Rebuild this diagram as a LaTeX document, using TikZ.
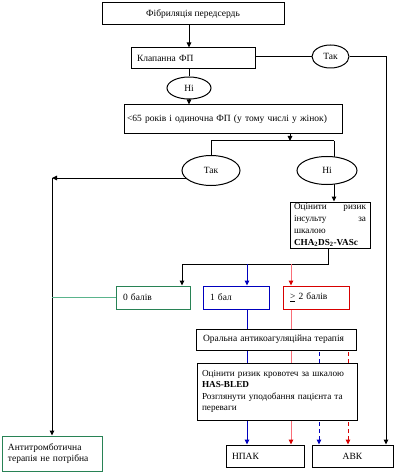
\documentclass[tikz,border=0pt]{standalone}
\usepackage{fontspec}
\setmainfont{Liberation Serif}
\usetikzlibrary{arrows.meta,shapes.geometric,backgrounds}
\definecolor{myblue}{RGB}{0,0,190}
\definecolor{myred}{RGB}{215,0,0}
\definecolor{lred}{RGB}{250,110,120}
\definecolor{mygreen}{RGB}{40,130,85}
\definecolor{lgreen}{RGB}{90,180,140}
\begin{document}
\begin{tikzpicture}[x=1pt,y=-1pt,
  base/.style={draw, fill=white, line width=1pt, font=\fontsize{9.5}{11.5}\selectfont, inner ysep=1pt},
  box/.style={base, rectangle, align=left, inner xsep=6pt},
  oval/.style={base, ellipse, inner sep=0pt},
  arr/.style={-{Triangle[length=5pt,width=4.5pt]}},
  redarr/.style={-{Triangle[length=5pt,width=4.5pt,color=myred]}},
  conn/.style={line width=1pt}]
\useasboundingbox (0,0) rectangle (400,473);
% nodes
\node[base, rectangle, align=center, minimum width=182pt, minimum height=22pt] (top) at (193,14) {Фібриляція передсердь};
\node[box, text width=112pt, minimum height=21pt] (klap) at (193,58.5) {Клапанна ФП};
\node[oval, minimum width=37pt, minimum height=23pt] (tak1) at (330.5,56.5) {Так};
\node[oval, minimum width=44pt, minimum height=22pt] (ni1) at (189,88) {Ні};
\node[box, inner xsep=3pt, text width=212pt, minimum height=29pt] (age) at (233,119.5) {<65 років і одиночна ФП (у тому числі у жінок)};
\node[oval, minimum width=58pt, minimum height=30pt] (tak2) at (211,170.5) {Так};
\node[oval, minimum width=60pt, minimum height=28pt] (ni2) at (327,170.5) {Ні};
\node[box, inner xsep=4pt, text width=72pt, minimum height=46pt, font=\fontsize{9.2}{11.8}\selectfont] (cha) at (330,225) {Оцінити\hfill ризик\\ інсульту\hfill за\\ шкалою\\ \textbf{CHA\textsubscript{2}DS\textsubscript{2}-VASc}};
\node[box, draw=mygreen, inner xsep=7pt, text width=60pt, minimum height=23pt] (b0) at (153,297.5) {0 балів};
\node[box, draw=myblue, inner xsep=7pt, text width=52pt, minimum height=23pt] (b1) at (236,297.5) {1 бал};
\node[box, draw=myred, inner xsep=7pt, text width=52pt, minimum height=23pt] (b2) at (316,297.5) {\underline{>} 2 балів};
\node[box, inner xsep=7pt, text width=146pt, minimum height=21pt] (oral) at (276,339.5) {Оральна антикоагуляційна терапія};
\node[box, inner xsep=5pt, text width=150pt, minimum height=57pt, font=\fontsize{9.2}{11.5}\selectfont] (has) at (277,391.5) {Оцінити ризик кровотеч за шкалою\\ \textbf{HAS-BLED}\\ Розглянути уподобання пацієнта та\\ переваги};
\node[box, text width=66pt, minimum height=22pt] (npak) at (265,456) {НПАК};
\node[base, rectangle, align=center, minimum width=81pt, minimum height=22pt] (avk) at (352.5,456) {АВК};
\node[box, draw=mygreen, text width=88pt, minimum height=35pt] (anti) at (52,453.5) {Антитромботична\\ терапія не потрібна};
% coordinates
\coordinate (c1) at (386,56.5);
\coordinate (j1) at (290,141);
\coordinate (j2) at (211,141);
\coordinate (j3) at (334,141);
\coordinate (c2) at (52,178);
\coordinate (j4) at (328,264);
\coordinate (j5) at (182,264);
\coordinate (j6) at (247,264);
\coordinate (j7) at (291,264);
\coordinate (j8) at (319,345);
\coordinate (j9) at (348,345);
\begin{scope}[on background layer]
\draw[conn,arr] ([xshift=-4pt]top.south) -- ([xshift=-4pt]klap.north);
\draw[conn] (klap.east |- tak1.west) -- (tak1.west);
\draw[conn,arr] (tak1.east) -- (c1) -- (c1 |- avk.north);
\draw[conn] ([xshift=-4pt]klap.south) -- (ni1.north);
\draw[conn,arr] (ni1.south) -- (ni1.south |- age.north);
\draw[conn,arr] (j1 |- age.south) -- (j1);
\draw[conn] (j2) -- (j3);
\draw[conn] (j2) -- (tak2.center);
\draw[conn] (j3) -- (j3 |- ni2.center);
\draw[conn,arr] (tak2.center |- c2) -- (c2);
\draw[conn,arr] (c2) -- (c2 |- anti.north);
\draw[conn,arr] (j3 |- ni2.center) -- (j3 |- cha.north);
\draw[conn] (j4 |- cha.south) -- (j4) -- (j5);
\draw[conn,arr] (j5) -- (j5 |- b0.north);
\draw[conn,myblue,arr] (j6) -- (j6 |- b1.north);
\draw[conn,myblue,arr] (j6 |- b1.south) -- (j6 |- npak.north);
\draw[conn,lred,redarr] (j7) -- (j7 |- b2.north);
\draw[conn,lred,redarr] (j7 |- b2.south) -- (j7 |- npak.north);
\draw[conn,myblue,dash pattern=on 4pt off 3pt,arr] (j8) -- (j8 |- avk.north);
\draw[conn,myred,dash pattern=on 4pt off 3pt,arr] (j9) -- (j9 |- avk.north);
\draw[conn,lgreen] (b0.west) -- (b0.west -| c2);
\end{scope}
\end{tikzpicture}
\end{document}
